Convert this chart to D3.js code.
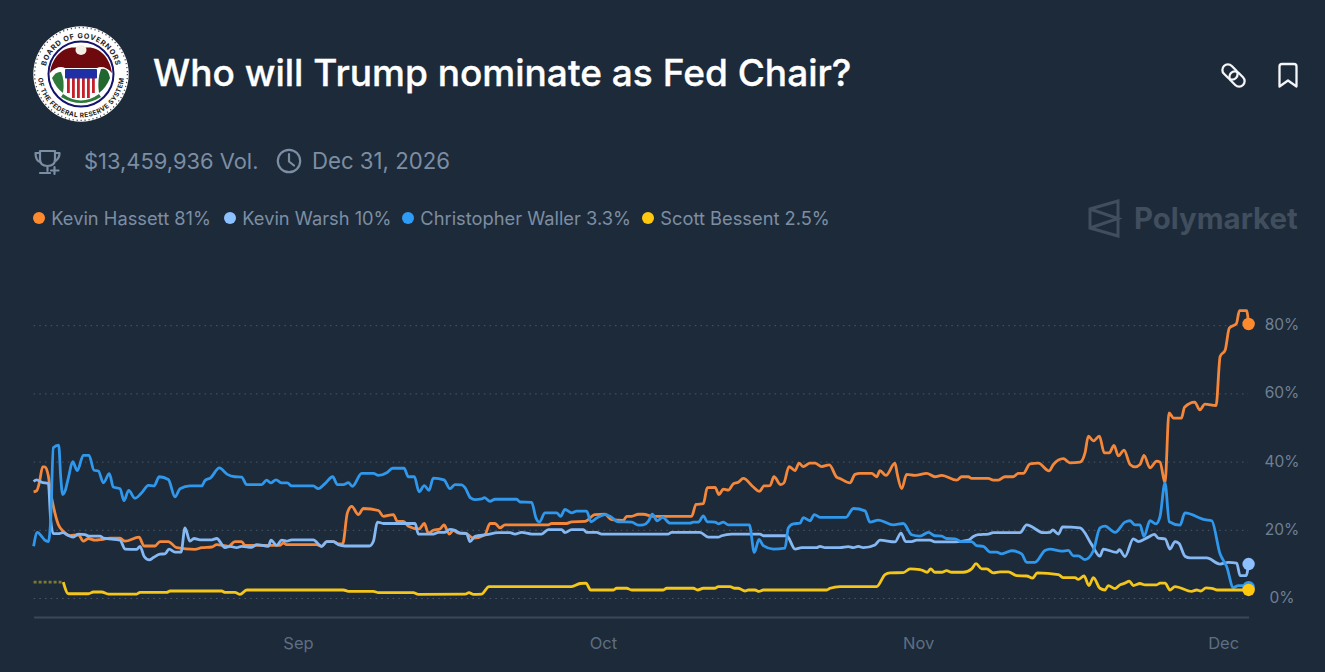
<!DOCTYPE html>
<html><head><meta charset="utf-8">
<script src="https://cdn.jsdelivr.net/npm/d3@7"></script>
<style>
html,body{margin:0;padding:0;background:#1d2a39;overflow:hidden}
svg{display:block}
text{font-family:Inter,"Noto Sans",sans-serif}
</style></head><body><svg id="c" width="1325" height="672"></svg>
<script>
// [days since 6 Aug 2025, percent]
const hassett=[[0,31.3],[.3,31.6],[.56,33.9],[.89,38.6],[1.12,38.6],[1.45,35.9],[1.68,31],[1.94,27.1],[2.43,21.7],[2.92,19.7],[3.58,18.4],[4.4,18.7],[4.89,16.8],[5.38,17.6],[6.04,17.1],[6.7,17.3],[7.52,17.7],[8.5,17.7],[8.99,16.8],[10.37,18],[10.86,15.4],[11.94,15.4],[12.43,16.7],[13.25,16.7],[14.07,14.9],[15.87,14.4],[16.53,14.9],[17.52,15.1],[18.01,15.8],[19.16,15.3],[19.8,16.7],[20.46,16.7],[20.79,15.6],[24.24,15.6],[24.56,16.3],[24.89,15.8],[27.84,15.8],[28.33,15.3],[28.83,16.7],[29.48,16.7],[29.97,16],[30.4,16],[30.86,25.1],[31.29,27],[31.94,24.6],[32.43,26.4],[33.91,25.8],[34.4,24.1],[35.38,24.6],[35.78,22.6],[36.37,22.6],[36.86,21.2],[37.91,20.4],[38.43,22],[38.82,19.2],[39.32,20],[39.97,20.4],[40.36,21.6],[40.89,18.9],[41.28,20],[41.77,19.2],[42.43,19.2],[43.25,17.7],[44.39,18.7],[44.89,22],[45.38,22],[45.87,20.7],[46.36,21.6],[50.62,21.6],[50.95,22],[52.43,22],[52.92,22.5],[54.23,22.6],[55.21,24.6],[56.2,24.7],[56.85,23.1],[58,22.9],[58.33,24.1],[58.82,24.1],[59.48,24.7],[59.97,24.7],[60.95,24.1],[64.72,24.1],[65.15,27.6],[65.87,27.8],[66.26,32.5],[67.02,32.6],[67.41,30.5],[67.84,32.1],[68.33,31.8],[68.82,33.6],[69.31,34.1],[69.8,35.2],[70.79,32.7],[71.38,31.4],[71.84,33],[72.43,33.1],[72.82,35.7],[73.48,33.4],[73.8,33.9],[74.3,38.7],[74.89,37.5],[75.28,39.7],[75.7,38.7],[76.36,39.7],[76.85,39.7],[77.51,38.7],[78.26,39.2],[78.98,35.6],[79.31,35.2],[80.29,33.9],[80.79,36.4],[81.28,36.7],[82.43,36.7],[82.92,35.7],[83.24,37.5],[83.83,36.1],[84.72,39.7],[84.95,36.4],[85.38,32.2],[85.87,36.4],[86.69,36.1],[87.84,36.7],[88.65,35.7],[89.31,36.1],[90.79,34.7],[91.28,35.7],[91.93,35.7],[92.26,35.2],[93.9,35.2],[94.39,34.7],[94.88,34.7],[95.54,35.7],[96.36,35.7],[96.85,36.7],[97.34,36.7],[98,39.5],[98.82,39.7],[99.87,37.4],[100.3,39.3],[101.28,41],[101.93,39.8],[102.92,40],[103.41,42.7],[103.74,47.6],[104.23,46.2],[104.82,47.6],[105.31,42.7],[105.8,42.7],[106.26,44.9],[106.69,41.8],[107.25,43.5],[107.84,39.3],[108.33,38.6],[108.82,39.3],[109.21,42],[109.8,38.3],[110.46,40.3],[110.79,40],[111.28,33.9],[111.67,54.4],[112.13,52.9],[112.89,52.9],[113.2,56.1],[114.2,57.6],[114.7,55.3],[115.2,57],[116.3,56.6],[116.7,71],[117.2,72.9],[117.6,79.3],[118.3,80.6],[118.6,84.4],[119.3,84.4],[119.5,80.5]];
const warsh=[[0,34.3],[.3,34.8],[.79,34.1],[1.45,33.7],[1.68,23.1],[1.94,19],[2.43,19],[2.86,19.3],[3.42,18.5],[3.91,18],[4.4,18.9],[5.05,18.7],[5.45,18.3],[6.53,18.3],[6.86,17.7],[8.5,17.1],[8.99,14.5],[10.14,14.4],[10.47,15.3],[10.86,12.4],[11.38,11.3],[11.78,12],[12.43,13],[12.92,13.1],[13.32,14.5],[13.91,13.6],[14.5,13.6],[14.89,20.7],[15.38,16.8],[15.78,17.6],[16.37,17.2],[17.52,17.2],[18.01,17.6],[18.83,14.9],[19.32,15.3],[19.97,14.9],[20.46,15.3],[21.45,15],[21.94,15.8],[23.09,15.3],[23.35,17.1],[23.91,15.6],[24.4,17.1],[24.89,16.8],[25.38,17.2],[27.51,17.2],[28.33,15.3],[28.83,16.7],[29.48,16.7],[29.97,15.8],[30.63,15.4],[33.02,15.4],[33.42,16.8],[33.81,22.4],[34.4,22],[37.52,22],[37.84,18.9],[39.31,18.9],[39.8,19.4],[40.46,19.4],[40.95,20.3],[41.44,20],[41.93,19.2],[42.59,19],[42.92,16.7],[43.41,18.2],[44.56,18.7],[45.7,19.3],[46.85,19.3],[47.34,18.9],[48,19.4],[48.98,18.9],[49.97,18.9],[50.62,20.2],[51.93,20.2],[52.26,19.3],[52.92,20.2],[54.07,20.2],[54.39,19.4],[55.38,19.4],[55.87,18.9],[62.43,18.9],[62.75,19.4],[65.54,19.4],[66.36,18],[67.34,18],[67.67,18.4],[68.66,18.9],[71.44,18.9],[71.77,18.4],[74.07,18.4],[74.89,14.5],[75.54,14.9],[77.02,14.9],[77.34,15.3],[77.84,14.9],[79.31,14.9],[80.13,15.2],[80.62,14.9],[81.11,15.3],[81.61,14.9],[82.75,15.7],[83.24,17.1],[84.72,16.6],[85.31,19.2],[85.77,16.7],[86.36,16.7],[86.85,17.1],[88.16,17.1],[88.65,16.6],[90.62,16.6],[91.93,17.1],[92.43,18.2],[92.92,18.7],[93.9,18.9],[94.39,19.3],[97.02,19.3],[97.67,21.6],[99.31,19.3],[99.97,19.4],[100.23,20.1],[100.79,18.9],[101.21,21],[102.92,20.7],[104.07,15.8],[104.88,12.4],[105.21,14.5],[106.52,13.5],[106.79,14.3],[107.34,12.3],[108.16,17.5],[108.65,16.7],[109.64,18],[110.23,18.8],[110.62,17.7],[111.28,17.5],[111.77,14.5],[112.26,16.7],[112.66,16.1],[113.24,12.4],[113.74,11.9],[115.38,11.9],[116.69,10.1],[117.51,10.6],[118.33,10.4],[118.66,6.7],[119.25,6.7],[119.5,10.1]];
const waller=[[0,15.3],[.37,19.4],[.8,18.2],[1.1,17.1],[1.45,16.7],[1.68,23.1],[1.94,44.2],[2.47,45],[2.66,35.9],[2.86,30.5],[3.09,31.5],[3.42,35.4],[3.84,40.1],[4.3,37.5],[4.89,42],[5.45,42],[5.94,37.6],[6.37,37.4],[6.86,33.9],[7.45,36.6],[7.84,32.7],[8.5,32.2],[8.89,28.7],[9.35,31.7],[9.97,29.4],[10.63,31],[11.29,33.2],[11.84,33],[12.37,35.7],[13.25,34.9],[13.91,29.8],[14.4,32.2],[15.38,33],[16.53,33],[16.86,34.6],[17.41,35.4],[18.27,38.3],[19.05,36.4],[19.8,35.7],[20.46,35.6],[20.96,33.4],[22.43,33.4],[22.92,34.7],[23.32,33.9],[23.84,34.8],[24.4,33.9],[24.96,33.9],[25.38,33],[27.51,33],[28,32.2],[28.66,33.7],[29.42,35.7],[29.88,33.4],[30.47,33.4],[30.96,34],[31.35,32.9],[32.27,36.7],[33.42,36.7],[33.91,36.1],[34.73,36.9],[35.32,38.2],[36.43,38.2],[36.86,35.7],[37.45,35.7],[37.91,31.3],[38.43,33.1],[38.89,31.7],[39.31,35.3],[40.36,34.8],[40.95,32.2],[41.44,33.4],[42.1,33.3],[42.43,32.5],[42.98,29.5],[43.41,29],[44.07,29.2],[44.33,29.6],[44.89,28.5],[45.38,29.1],[47.51,29.1],[47.84,28.3],[48.98,28.2],[49.41,23.6],[49.74,22.4],[50.3,25.1],[51.44,25.1],[51.84,24.1],[52.26,26.1],[52.92,25.1],[53.41,25.6],[54.39,25.6],[54.82,22.5],[55.38,23.6],[56.2,24.6],[56.69,24.1],[57.51,22.5],[58.82,22.4],[59.48,21.5],[59.97,21.6],[60.46,22.6],[60.85,24.7],[61.34,22.8],[61.87,23.8],[62.59,22.1],[64.56,22.1],[64.89,22.4],[65.38,22.4],[65.87,24.2],[66.26,22.5],[67.02,22.4],[67.34,21.9],[67.84,22.4],[68.33,21.6],[70.39,21.6],[70.89,13.5],[71.34,17.3],[71.77,15.5],[72.75,14.5],[73.9,14.8],[74.23,20.7],[74.72,21.9],[75.38,22.1],[75.7,23.7],[76.36,22.8],[76.79,24.6],[77.34,23.8],[79.9,23.8],[80.62,26.4],[81.77,25.7],[82.26,22.4],[83.08,23],[84.56,21.6],[85.54,22],[86.36,18.7],[87.18,18.3],[88,19.4],[88.65,18.4],[89.31,18.3],[89.8,17.6],[90.62,17.5],[91.28,16.7],[92.26,16.7],[92.75,15.5],[93.41,15.3],[94.07,13.6],[94.72,13.6],[95.21,13.1],[96.2,14],[97.18,13.1],[97.67,10.6],[98.49,10.6],[99.47,14.1],[99.97,14.5],[101.11,13.9],[101.77,14.1],[102.26,12.5],[102.75,12.5],[103.41,11.4],[104.23,14],[104.88,20.7],[105.38,21.2],[106.36,19.4],[107.34,22.4],[107.84,22.8],[108.33,21.6],[108.82,21.6],[109.21,18.2],[109.8,22.8],[110.39,21.9],[110.79,24.1],[111.28,33.9],[111.7,22.5],[112.75,21.5],[113.24,25.1],[115.21,23.1],[115.87,22.8],[116.69,13.1],[117.34,9.4],[118,3.2],[118.49,3.8],[119.3,3.8],[119.5,3.3]];
const bessentEarly=[[0,4.8],[2.92,4.8]];
const bessent=[[2.92,4.8],[3.42,1.4],[5.39,1.4],[5.88,1.9],[6.7,1.9],[7.35,1.3],[10.14,1.3],[10.47,1.8],[13.09,1.8],[13.42,2.2],[18.5,2.2],[18.83,1.8],[19.8,1.8],[20.3,1.2],[20.96,2.5],[30.47,2.5],[30.96,2.1],[33.42,2.1],[33.91,1.7],[37.35,1.7],[37.84,1.2],[42.43,1.3],[42.82,1.7],[43.25,1.2],[44.07,1.3],[44.79,3.5],[52.92,3.5],[53.74,4.4],[54.33,4.5],[54.79,2.5],[57.02,2.5],[57.34,3],[58.33,3],[58.82,2.5],[61.93,2.5],[62.26,3],[64.89,3],[65.31,2.5],[65.87,3],[67.02,3],[67.34,3.5],[68.49,3.5],[68.98,3],[69.31,3],[69.97,2.2],[70.3,2.5],[70.95,2.5],[71.34,2.1],[71.77,2.5],[78,2.5],[78.33,3],[79.31,3.5],[82.92,3.5],[83.74,7],[84.23,7.5],[85.54,7.6],[86.2,8.7],[87.18,8.5],[87.9,7.7],[88.23,8.7],[88.65,7.7],[89.31,7.7],[89.8,8.2],[90.29,7.7],[91.44,7.7],[92.26,8.7],[92.69,10.2],[93.25,8.7],[93.74,8.7],[94.39,7.5],[95.05,7.8],[95.87,7.8],[96.69,6.7],[97.67,6.6],[98.26,6],[98.72,7.5],[100.79,7],[101.28,6.1],[102.43,6.1],[102.75,5.6],[103.31,6.6],[103.8,3.8],[104.23,6.1],[104.88,3],[105.38,2.5],[105.7,3.8],[106.36,2.9],[106.85,4],[107.34,4.5],[107.77,5.1],[108.16,3.8],[108.82,4.4],[109.31,4],[110.46,4],[110.79,4.5],[111.28,4.5],[111.77,2.5],[112.26,3.5],[113.9,2.1],[114.39,2.5],[114.79,2.2],[115.31,3.1],[115.87,3],[116.36,2.5],[118.49,2.5],[119.5,2.5]];

const seriesNames=["Kevin Hassett","Kevin Warsh","Christopher Waller","Scott Bessent"];
const seriesLabels=["81%","10%","3.3%","2.5%"];
const seriesColors=["#ff8a2e","#8cc0ff","#2e9cf5","#ffc80f"];
const lineColors=["#f5873a","#86b9f3","#2f98ec","#f4c61a"];
const yTicks=[0,20,40,60,80];
const monthTicks=[[26,"Sep"],[56,"Oct"],[87,"Nov"],[117,"Dec"]];
const titleText="Who will Trump nominate as Fed Chair?";
const volumeText="$13,459,936 Vol.";
const endDateText="Dec 31, 2026";

const svg=d3.select("#c");
svg.append("rect").attr("width",1325).attr("height",672).attr("fill","#1d2a39");
const t0=Date.UTC(2025,7,6);
const toDate=d=>new Date(t0+d*864e5);
const x=d3.scaleUtc().domain([toDate(0),toDate(119.5)]).range([33.6,1248.6]);
const y=d3.scaleLinear().domain([0,80]).range([598.5,325.7]);

// header
svg.append("text").attr("x",153).attr("y",86).attr("fill","#fff").attr("font-size",37.05).attr("font-weight",500).attr("stroke","#fff").attr("stroke-width",.35).text(titleText);
const muted="#7c8ea3";
svg.append("text").attr("x",84).attr("y",169).attr("fill",muted).attr("font-size",21.9).text(volumeText);
svg.append("text").attr("x",312).attr("y",169).attr("fill",muted).attr("font-size",22.2).text(endDateText);

// trophy
const tr=svg.append("g").attr("fill","none").attr("stroke",muted).attr("stroke-width",2.2).attr("stroke-linecap","round").attr("stroke-linejoin","round");
tr.append("path").attr("d","M40 151H55V159Q55 166 47.5 166Q40 166 40 159ZM40 153H35.5Q35.5 161 41 162.5M55 153H59.5Q59.5 158 56 160.5M47.5 166V171M40 173H50");
tr.append("path").attr("d","M54.5 167V174M51 170.5H58.5");
// clock
const ck=svg.append("g").attr("fill","none").attr("stroke",muted).attr("stroke-width",2.2).attr("stroke-linecap","round").attr("stroke-linejoin","round");
ck.append("circle").attr("cx",289).attr("cy",161).attr("r",11.2);
ck.append("path").attr("d","M289 154V161.5L294 165.5");
// link and bookmark
const ic=svg.append("g").attr("fill","none").attr("stroke","#f4f6f8").attr("stroke-width",2.3).attr("stroke-linecap","round").attr("stroke-linejoin","round");
ic.append("rect").attr("x",1221.5).attr("y",66.5).attr("width",17).attr("height",11).attr("rx",5.5).attr("transform","rotate(45 1230 72)");
ic.append("rect").attr("x",1228.5).attr("y",73.5).attr("width",17).attr("height",11).attr("rx",5.5).attr("transform","rotate(45 1237 79)");
ic.append("path").attr("d","M1279.5 66.5Q1279.5 64 1282 64H1294Q1296.5 64 1296.5 66.5V86.5L1288 80.5L1279.5 86.5Z");

// seal
const sx=81,sy=74;
const seal=svg.append("g").attr("transform",`translate(${sx},${sy})`);
seal.append("circle").attr("r",47.7).attr("fill","#fff");
seal.append("circle").attr("r",46.4).attr("fill","none").attr("stroke","#444").attr("stroke-width",1.3).attr("stroke-dasharray","1.2 2.8");
seal.append("circle").attr("r",32.5).attr("fill","#fff").attr("stroke","#14146e").attr("stroke-width",2);
seal.append("path").attr("d","M-31 -1C-29 -18 -16 -29 -3 -26L3 -26C16 -29 29 -18 31 -1C26 -7 20 -8 16 -6H-16C-20 -8 -26 -7 -31 -1Z").attr("fill","#6e0a0e");
seal.append("ellipse").attr("cx",0).attr("cy",-24).attr("rx",5.5).attr("ry",5).attr("fill","#f2efe6");
seal.append("path").attr("d","M-15 4H15V18Q9 25 0 26Q-9 25 -15 18Z").attr("fill","#fff");
for(const s of [-14,-9,-4,1,6,11]) seal.append("rect").attr("x",s).attr("y",4).attr("width",2.8).attr("height",s<-10||s>10?15:20).attr("fill","#c5202a");
seal.append("rect").attr("x",-16).attr("y",-5).attr("width",32).attr("height",9.5).attr("rx",1).attr("fill","#1f2fa5");
seal.append("path").attr("d","M-29 4Q-25 -3 -20 -2Q-16 6 -18 19Q-25 14 -29 4Z").attr("fill","#2f7a3a");
seal.append("path").attr("d","M29 4Q27 -7 20 -5Q16 6 18 19Q25 14 29 4Z").attr("fill","#22662f");
seal.append("path").attr("d","M-18 20Q0 33 18 20L20 23Q0 35 -20 23Z").attr("fill","#2f7a3a");
const defs=svg.append("defs");
defs.append("path").attr("id","arcTop").attr("d","M-35.8 4A36 36 0 1 1 35.8 4");
defs.append("path").attr("id","arcBottom").attr("d","M-43 -4A43.2 43.2 0 1 0 43 -4");
seal.append("text").attr("font-size",7.2).attr("font-family","Liberation Serif").attr("font-weight",700).attr("fill","#222").attr("letter-spacing",.7)
 .append("textPath").attr("href","#arcTop").attr("startOffset","50%").attr("text-anchor","middle").text("BOARD OF GOVERNORS");
seal.append("text").attr("font-size",6.6).attr("font-family","Liberation Serif").attr("font-weight",700).attr("fill","#222").attr("letter-spacing",.4)
 .append("textPath").attr("href","#arcBottom").attr("startOffset","50%").attr("text-anchor","middle").text("OF THE FEDERAL RESERVE SYSTEM");

// legend
const legendX=[39,230,408,648];
seriesNames.forEach((n,i)=>{
  svg.append("circle").attr("cx",legendX[i]).attr("cy",218).attr("r",6).attr("fill",seriesColors[i]);
  svg.append("text").attr("x",legendX[i]+12.3).attr("y",224.5).attr("fill",muted).attr("font-size",18.3).text(n+" "+seriesLabels[i]);
});

// watermark
const wm="#404e5d";
const wg=svg.append("g").attr("fill","none").attr("stroke",wm).attr("stroke-width",3);
wg.append("path").attr("d","M1118 201V236L1090 228V209ZM1090 209L1118 218.5L1090 228M1118 201L1090 209M1118 236L1090 228");
svg.append("text").attr("x",1134).attr("y",229).attr("fill",wm).attr("font-size",29.4).attr("font-weight",700).attr("font-family","Roboto").text("Polymarket");

// grid + axes
const chart=svg.append("g");
chart.append("g").selectAll("line").data(yTicks).join("line")
 .attr("x1",33.6).attr("x2",1248).attr("y1",d=>y(d)).attr("y2",d=>y(d))
 .attr("stroke","#4a5868").attr("stroke-width",1).attr("stroke-dasharray","1.5 4.2");
const xAxis=chart.append("g").attr("transform","translate(0,617)")
 .call(d3.axisBottom(x).tickValues(monthTicks.map(m=>toDate(m[0]))).tickSize(0).tickPadding(20).tickFormat((d,i)=>monthTicks[i][1]));
xAxis.select(".domain").attr("stroke","#3a4858").attr("stroke-width",2);
xAxis.selectAll("text").attr("fill","#5d6f82").attr("font-size",16.5).attr("font-family","Inter");
const yAxis=chart.append("g").attr("transform","translate(1282,-1)")
 .call(d3.axisRight(y).tickValues(yTicks).tickSize(0).tickPadding(0).tickFormat(d=>d+"%"));
yAxis.select(".domain").remove();
yAxis.selectAll("text").attr("text-anchor","middle").attr("fill","#6f8094").attr("font-size",15.5).attr("font-family","Inter");

// lines
const line=d3.line().x(d=>x(toDate(d[0]))).y(d=>y(d[1])).curve(d3.curveMonotoneX);
chart.append("path").datum(bessentEarly).attr("d",line).attr("fill","none").attr("stroke","#7d7a30").attr("stroke-width",2.6).attr("stroke-dasharray","3 2");
const all=[hassett,warsh,waller,bessent];
all.forEach((s,i)=>{
  chart.append("path").datum(s).attr("d",line).attr("fill","none").attr("stroke",lineColors[i]).attr("stroke-width",2.8).attr("stroke-linejoin","round");
});
all.forEach((s,i)=>{
  const p=s[s.length-1];
  chart.append("circle").attr("cx",x(toDate(p[0]))).attr("cy",y(p[1])).attr("r",6.2).attr("fill",seriesColors[i]);
});
</script></body></html>
